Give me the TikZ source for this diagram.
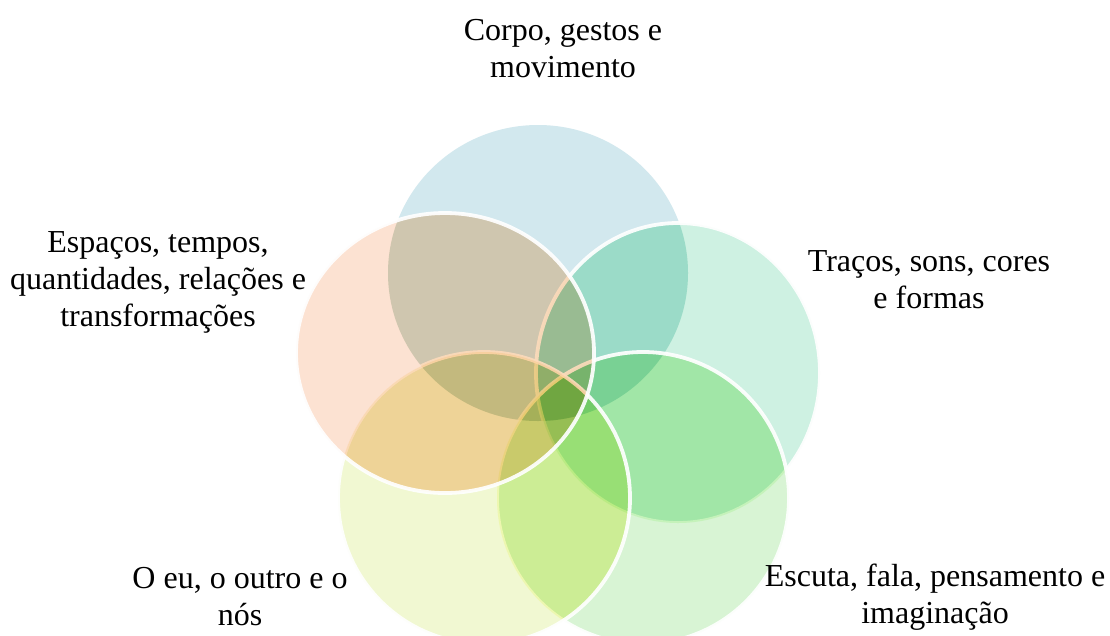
\documentclass[tikz,border=0pt]{standalone}
\usepackage{fontspec}
\setmainfont{Liberation Serif}
\definecolor{cCorpo}{HTML}{D2E8EE}
\definecolor{cTracos}{HTML}{CEF1E2}
\definecolor{cEscuta}{HTML}{D8F4D4}
\definecolor{cEu}{HTML}{F1F8D2}
\definecolor{cEspacos}{HTML}{FCE2D2}
% extra tints for pairwise overlaps
\definecolor{xCT}{RGB}{235,255,243}
\definecolor{xTE}{RGB}{237,255,228}
\definecolor{xEU}{RGB}{255,255,219}
\definecolor{xUS}{RGB}{255,246,224}
\definecolor{xSC}{RGB}{255,247,228}
\def\pCorpo{(538,273) ellipse [x radius=150, y radius=148]}
\def\pTracos{(678,373) ellipse [x radius=142, y radius=150]}
\def\pEscuta{(643,498) ellipse [x radius=146, y radius=146]}
\def\pEu{(484,498) ellipse [x radius=146, y radius=146]}
\def\pEspacos{(445,353) ellipse [x radius=149, y radius=140]}
\begin{document}
\begin{tikzpicture}[x=1pt,y=-1pt,
  petal/.style={blend mode=multiply},
  rim/.style={draw=white, line width=3.8pt, draw opacity=0.92},
  lbl/.style={font=\fontsize{32}{37}\selectfont, align=center, inner sep=0pt, anchor=base}]
\useasboundingbox (0,0) rectangle (1110,635);
\fill[white] (0,0) rectangle (1110,635);
% Corpo
\fill[cCorpo, petal] \pCorpo;
% Tracos
\fill[cTracos, petal] \pTracos;
\begin{scope}\clip \pCorpo; \fill[xCT, petal] \pTracos; \end{scope}
\draw[rim] \pTracos;
% Escuta
\fill[cEscuta, petal] \pEscuta;
\begin{scope}\clip \pTracos; \fill[xTE, petal] \pEscuta; \end{scope}
\draw[rim] \pEscuta;
% O eu
\fill[cEu, petal] \pEu;
\begin{scope}\clip \pEscuta; \fill[xEU, petal] \pEu; \end{scope}
\draw[rim] \pEu;
% Espacos
\fill[cEspacos, petal] \pEspacos;
\begin{scope}\clip \pEu; \fill[xUS, petal] \pEspacos; \end{scope}
\begin{scope}\clip \pCorpo; \fill[xSC, petal] \pEspacos; \end{scope}
\draw[rim] \pEspacos;
% labels
\node[lbl] (corpo) at (563,77) {Corpo, gestos e\\movimento};
\node[lbl] (espacos) at (158,326) {Espaços, tempos,\\quantidades, relações e\\transformações};
\node[lbl] (tracos) at (929,308) {Traços, sons, cores\\e formas};
\node[lbl] (eu) at (240,625) {O eu, o outro e o\\nós};
\node[lbl] (escuta) at (935,623) {Escuta, fala, pensamento e\\imaginação};
\end{tikzpicture}
\end{document}
